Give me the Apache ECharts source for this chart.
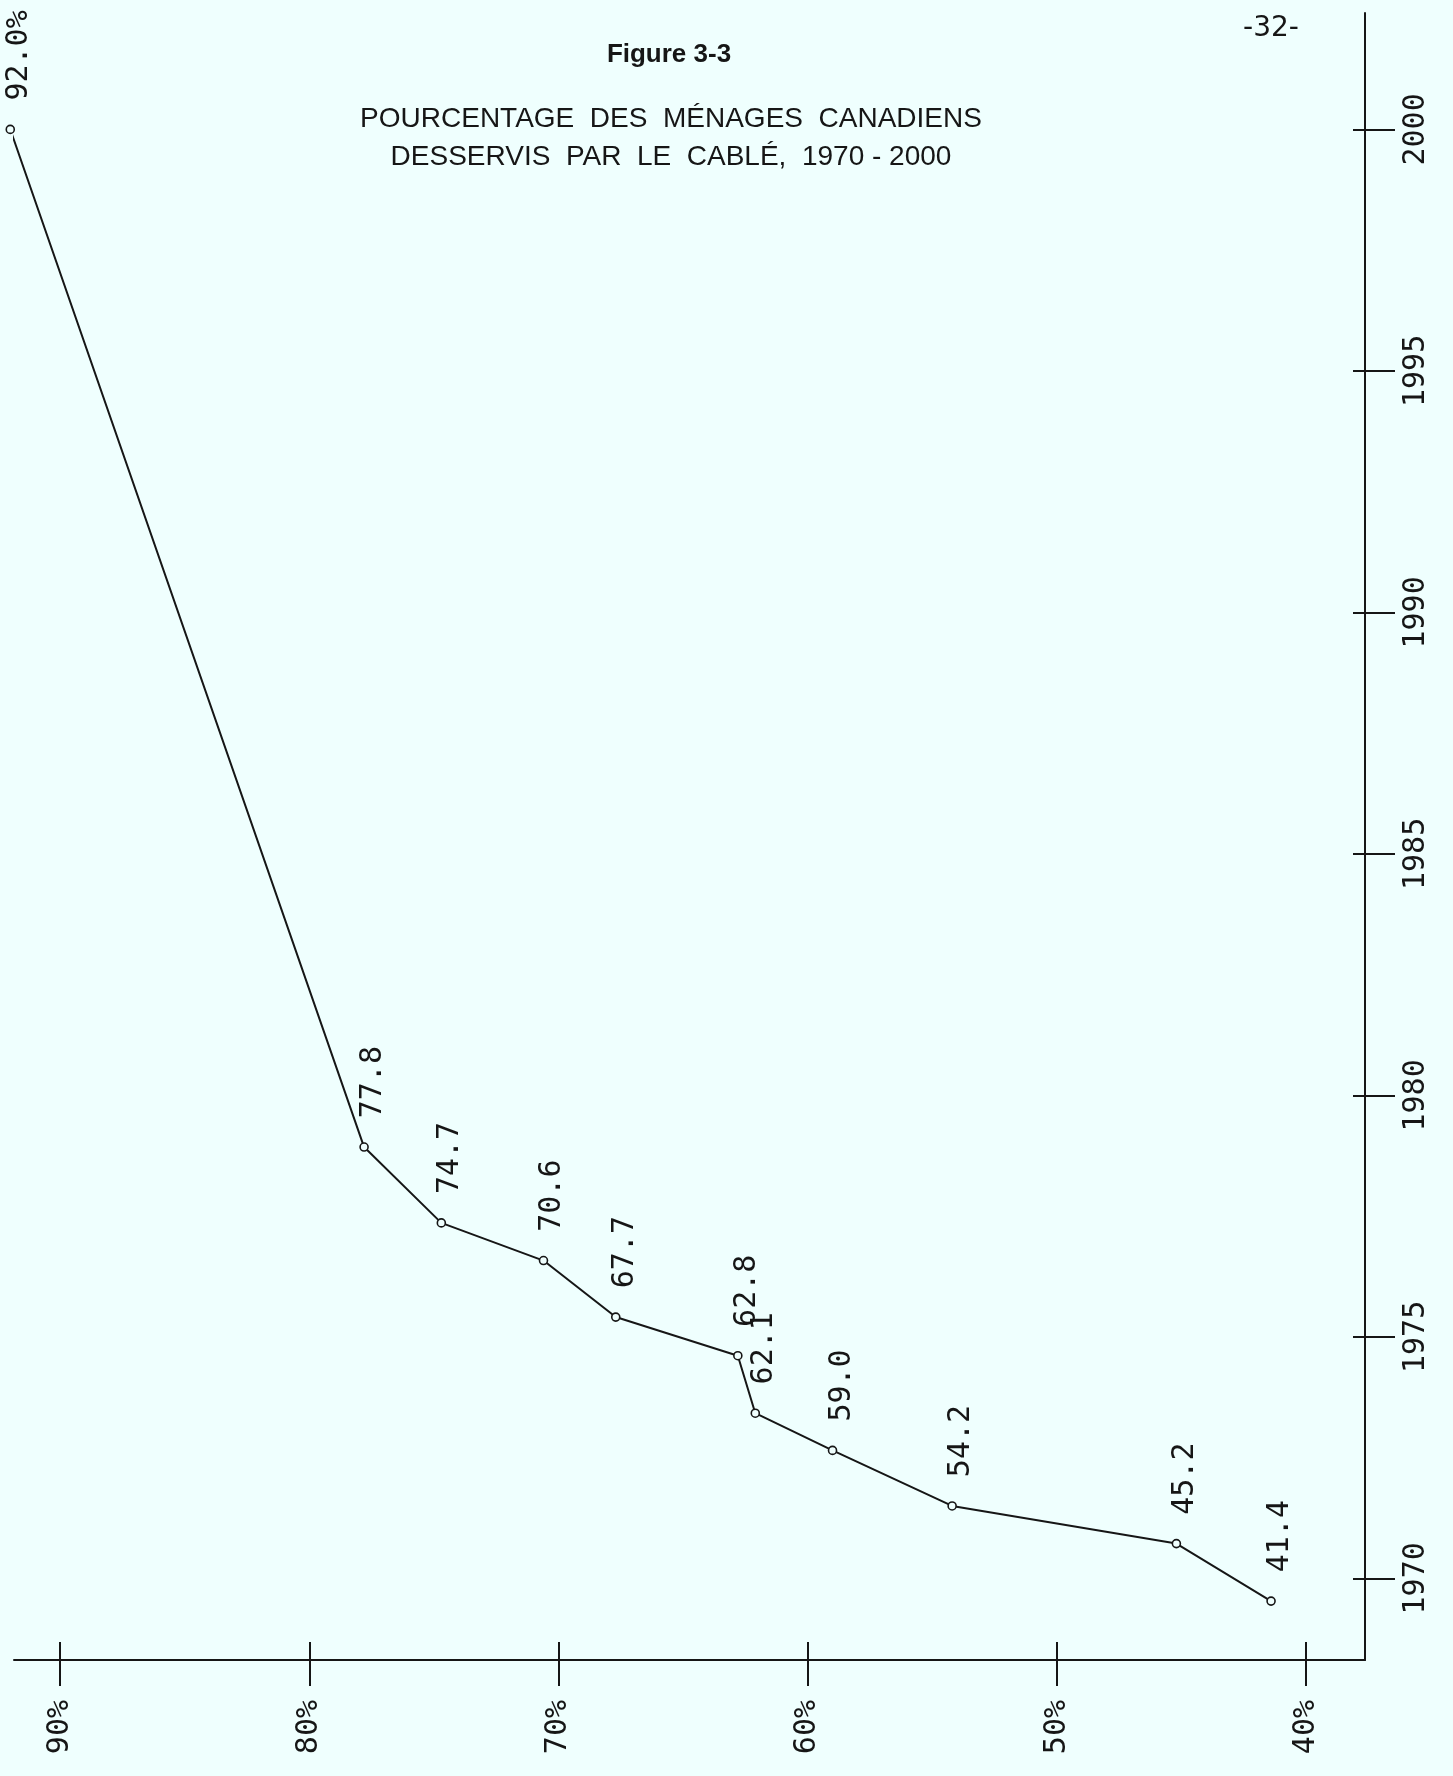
<!DOCTYPE html>
<html>
<head>
<meta charset="utf-8">
<script src="https://cdn.jsdelivr.net/npm/echarts@6/dist/echarts.min.js"></script>
<style>
html,body{margin:0;padding:0;background:#effffe;}
#chart{width:1453px;height:1776px;}
</style>
</head>
<body>
<div id="chart"></div>
<script>
// Data (year position)
const years = [1969.53, 1970.72, 1971.50, 1972.65, 1973.42, 1974.61, 1975.41, 1976.58, 1977.36, 1978.93, 2000.0];
const pctValues = [41.4, 45.2, 54.2, 59.0, 62.1, 62.8, 67.7, 70.6, 74.7, 77.8, 92.0];
const pctTicks = [40, 50, 60, 70, 80, 90];
const yearTicks = [1970, 1975, 1980, 1985, 1990, 1995, 2000];
const titleFig = 'Figure 3-3';
const titleLine1 = 'POURCENTAGE  DES  MÉNAGES  CANADIENS';
const titleLine2 = 'DESSERVIS  PAR  LE  CABLÉ,  1970 - 2000';
const pageNo = '-32-';

const BG = '#effffe';
const INK = '#161616';
const mono = "'DejaVu Sans Mono', 'Liberation Mono', monospace";

const seriesData = pctValues.map((v, i) => [v, years[i]]);

const xRange = { min: 37.63, max: 91.85 };
const yRange = { min: 1968.31, max: 2002.41 };

const chart = echarts.init(document.getElementById('chart'), null, { renderer: 'canvas' });
chart.setOption({
  backgroundColor: BG,
  animation: false,
  grid: { left: 14, right: 88, top: 13, bottom: 116, containLabel: false },
  xAxis: [
    {
      type: 'value', position: 'bottom', inverse: true,
      min: xRange.min, max: xRange.max,
      axisLine: { show: true, onZero: false, lineStyle: { color: INK, width: 2 } },
      axisTick: { show: true, inside: false, length: 26, lineStyle: { color: INK, width: 2 }, customValues: pctTicks },
      axisLabel: { show: true, rotate: 90, margin: 40, customValues: pctTicks,
        formatter: v => v + '%', color: INK, fontFamily: mono, fontSize: 30 },
      splitLine: { show: false }
    },
    {
      type: 'value', position: 'bottom', inverse: true,
      min: xRange.min, max: xRange.max,
      axisLine: { show: false, onZero: false },
      axisTick: { show: true, inside: true, length: 18, lineStyle: { color: INK, width: 2 }, customValues: pctTicks },
      axisLabel: { show: false },
      splitLine: { show: false }
    }
  ],
  yAxis: [
    {
      type: 'value', position: 'right',
      min: yRange.min, max: yRange.max,
      axisLine: { show: true, onZero: false, lineStyle: { color: INK, width: 2 } },
      axisTick: { show: true, inside: false, length: 30, lineStyle: { color: INK, width: 2 }, customValues: yearTicks },
      axisLabel: { show: true, rotate: 90, margin: 36, customValues: yearTicks,
        formatter: v => String(v), color: INK, fontFamily: mono, fontSize: 30 },
      splitLine: { show: false }
    },
    {
      type: 'value', position: 'right',
      min: yRange.min, max: yRange.max,
      axisLine: { show: false, onZero: false },
      axisTick: { show: true, inside: true, length: 12, lineStyle: { color: INK, width: 2 }, customValues: yearTicks },
      axisLabel: { show: false },
      splitLine: { show: false }
    }
  ],
  series: [{
    type: 'line',
    xAxisIndex: 0, yAxisIndex: 0,
    data: seriesData,
    clip: false,
    symbol: 'circle', symbolSize: 8, showAllSymbol: true,
    lineStyle: { color: INK, width: 2 },
    itemStyle: { color: BG, borderColor: INK, borderWidth: 1.6 },
    label: {
      show: true, rotate: 90, position: [14, -24], align: 'left', verticalAlign: 'middle',
      color: INK, fontFamily: mono, fontSize: 30,
      formatter: p => p.dataIndex === pctValues.length - 1 ? p.value[0].toFixed(1) + '%' : p.value[0].toFixed(1)
    },
    emphasis: { disabled: true }
  }],
  graphic: [
    { type: 'text', x: 669, y: 55, style: { text: titleFig, align: 'center', verticalAlign: 'middle',
      font: "bold 26px 'Liberation Sans Narrow', 'Liberation Sans', sans-serif", fill: INK } },
    { type: 'text', x: 671, y: 119, style: { text: titleLine1, align: 'center', verticalAlign: 'middle',
      font: "28px 'Liberation Sans', sans-serif", fill: INK } },
    { type: 'text', x: 671, y: 157, style: { text: titleLine2, align: 'center', verticalAlign: 'middle',
      font: "28px 'Liberation Sans', sans-serif", fill: INK } },
    { type: 'text', x: 1271, y: 29, style: { text: pageNo, align: 'center', verticalAlign: 'middle',
      font: "28px 'DejaVu Sans', sans-serif", fill: INK } }
  ]
});
</script>
</body>
</html>
